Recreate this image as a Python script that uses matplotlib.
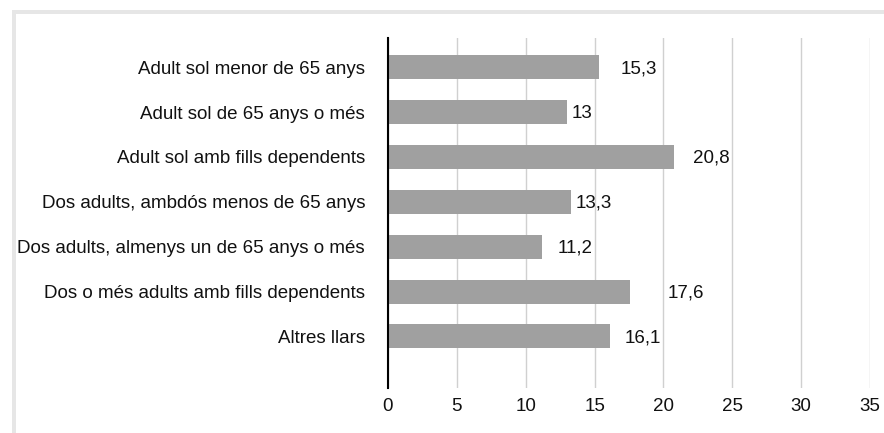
import numpy as np
import matplotlib.pyplot as plt
from matplotlib.patches import Rectangle

# data
categories = ['Adult sol menor de 65 anys',
              'Adult sol de 65 anys o més',
              'Adult sol amb fills dependents',
              'Dos adults, ambdós menos de 65 anys',
              'Dos adults, almenys un de 65 anys o més',
              'Dos o més adults amb fills dependents',
              'Altres llars']
values = [15.3, 13.0, 20.8, 13.3, 11.2, 17.6, 16.1]
x_ticks = [0, 5, 10, 15, 20, 25, 30, 35]

# label gaps after each bar end (points), as in the original
label_pads = [16, 3, 13, 3, 11, 27, 11]

plt.rcParams['font.family'] = ['Liberation Sans', 'DejaVu Sans']
fs = 13.5

fig = plt.figure(figsize=(8.84, 4.33), dpi=100)
ax = fig.add_axes([0.4389, 0.1039, 0.5453, 0.8083])

# light frame at top and left
fig.add_artist(Rectangle((12 / 884, 1 - 14 / 433), 1, 4 / 433, transform=fig.transFigure,
                         color='#e6e6e6', lw=0))
fig.add_artist(Rectangle((12 / 884, 0), 4 / 884, 1 - 10 / 433, transform=fig.transFigure,
                         color='#e6e6e6', lw=0))

pos = np.arange(len(categories))
ax.barh(pos, values, height=0.535, color='#a0a0a0', zorder=2)

for p, v, pad in zip(pos, values, label_pads):
    txt = ('%g' % v).replace('.', ',')
    ax.annotate(txt, (v, p), xytext=(pad, -1), textcoords='offset points',
                va='center', ha='left', fontsize=fs, color='#111111')

ax.set_xlim(0, 35)
ax.set_ylim(7.15, -0.65)
ax.set_xticks(x_ticks)
ax.set_yticks(pos)
ax.set_yticklabels(categories)
ax.tick_params(axis='both', length=0, labelsize=fs, colors='#111111')
ax.tick_params(axis='y', pad=16.5)
ax.tick_params(axis='x', pad=7)

ax.grid(axis='x', color='#d0d0d0', linewidth=1, zorder=0)
for s in ['top', 'right', 'bottom']:
    ax.spines[s].set_visible(False)
ax.spines['left'].set_color('black')
ax.spines['left'].set_linewidth(1.5)
ax.spines['left'].set_zorder(3)

plt.savefig('out.png', dpi=100)
